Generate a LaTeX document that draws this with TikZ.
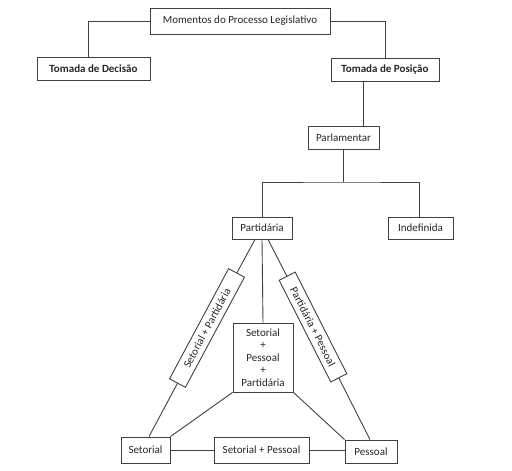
\documentclass[tikz,border=0pt]{standalone}
\usepackage{fontspec}
\setmainfont{Carlito}
\usetikzlibrary{backgrounds}
\begin{document}
\begin{tikzpicture}[x=1pt,y=1pt,
  every node/.style={font=\fontsize{11}{12.5}\selectfont, text=black!85},
  box/.style={draw=black!75, line width=0.9pt, fill=white, inner sep=1pt, align=center},
  conn/.style={draw=black!75, line width=0.9pt}]
\useasboundingbox (0,0) rectangle (512,-471);
\node[box, minimum width=180pt, minimum height=26pt] (top) at (240,-21) {Momentos do Processo Legislativo};
\node[box, minimum width=113pt, minimum height=23pt, font=\fontsize{11}{12.5}\selectfont\bfseries] (td) at (93.5,-68.5) {Tomada de Decisão};
\node[box, minimum width=108pt, minimum height=23pt, font=\fontsize{11}{12.5}\selectfont\bfseries] (tp) at (385,-69.5) {Tomada de Posição};
\node[box, minimum width=71pt, minimum height=23pt] (parl) at (343.5,-137.5) {Parlamentar};
\node[box, minimum width=60pt, minimum height=22pt] (part) at (262,-228) {Partidária};
\node[box, minimum width=65pt, minimum height=22pt] (indef) at (420.5,-228) {Indefinida};
\node[box, minimum width=60pt, minimum height=69pt] (cen) at (263,-357.5) {Setorial\\+\\Pessoal\\+\\Partidária};
\node[box, minimum width=49pt, minimum height=26pt] (set) at (145.5,-450) {Setorial};
\node[box, minimum width=95pt, minimum height=26pt] (sp) at (261.5,-450) {Setorial + Pessoal};
\node[box, minimum width=52pt, minimum height=23pt] (pes) at (371,-451.5) {Pessoal};
\node[box, minimum width=125pt, minimum height=18pt, rotate=61.8] (rl) at (207,-328) {Setorial + Partidária};
\node[box, minimum width=114pt, minimum height=18pt, rotate=-63.1] (rr) at (313,-327) {Partidária + Pessoal};
% connectors
\begin{scope}[on background layer]
\draw[conn] (top.west) -| ([xshift=-5.5pt]td.north);
\draw[conn] (top.east) -| (tp.north);
\draw[conn] ([xshift=-22pt]tp.south) -- ([xshift=-22pt]tp.south |- parl.north);
\coordinate (hub) at (343.5,-182);
\draw[conn] (parl.south) -- (hub);
\draw[conn] (part.north) |- (hub) -| ([xshift=-1.5pt]indef.north);
\draw[conn] (part.south) -- (cen.north);
\draw[conn] ([xshift=-7pt]part.south) -- (rl.center) -- ([xshift=3.5pt]set.north);
\draw[conn] ([xshift=6pt]part.south) -- (rr.center) -- ([xshift=-1pt]pes.north);
\draw[conn] (cen.south west) -- (set.north east);
\draw[conn] (cen.south east) -- (pes.north west);
\draw[conn] (set.east) -- (sp.west);
\draw[conn] (sp.east) -- (sp.east -| pes.west);
\end{scope}
\end{tikzpicture}
\end{document}
